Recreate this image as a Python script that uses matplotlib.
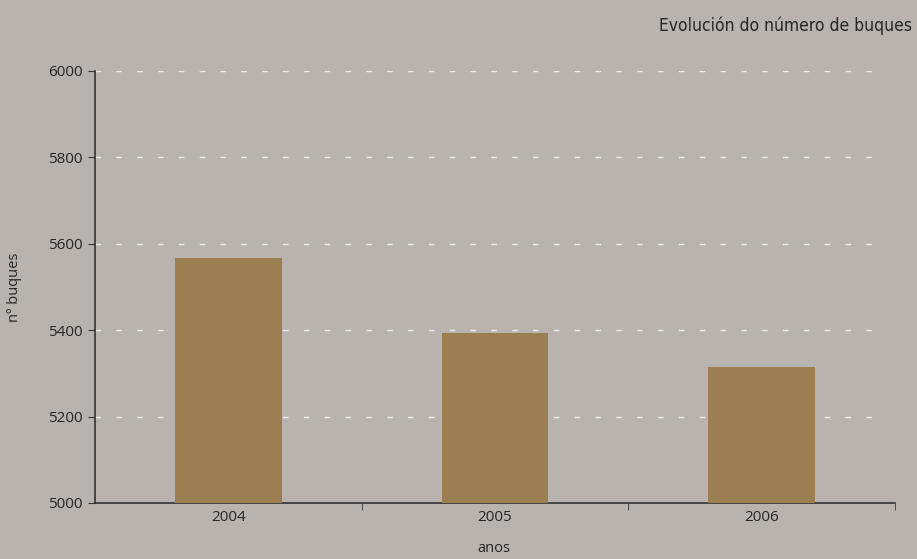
import matplotlib
matplotlib.use("Agg")
import matplotlib.pyplot as plt

years = ["2004", "2005", "2006"]
buques = [5566, 5393, 5314]
y_ticks = [5000, 5200, 5400, 5600, 5800, 6000]

bg = "#b8b3ae"
bar_color = "#9b7f51"
text_color = "#262626"

fig = plt.figure(figsize=(9.17, 5.59), dpi=100, facecolor=bg)
ax = fig.add_axes([95 / 917, 1 - 503 / 559, 800 / 917, 432 / 559], facecolor=bg)

x = range(len(years))
ax.bar(x, buques, width=0.4, color=bar_color, zorder=3)

ax.set_xlim(-0.5, len(years) - 0.5)
ax.set_ylim(5000, 6000)
ax.set_yticks(y_ticks)
ax.set_yticklabels([str(v) for v in y_ticks], fontsize=11, family="Open Sans", color=text_color)

# category labels centred under bars, tick marks at category boundaries
ax.set_xticks(list(x))
ax.set_xticklabels(years, fontsize=11, family="Open Sans", color=text_color)
ax.tick_params(axis="x", length=0, pad=5)
ax.set_xticks([i + 0.5 for i in x], minor=True)
ax.tick_params(axis="x", which="minor", length=5, direction="out", color="#333333")
ax.tick_params(axis="y", length=5, direction="out", color="#333333", pad=4)

for v in y_ticks[1:]:
    ax.axhline(v, color="#eeeeee", lw=1, ls=(0, (4, 11)), xmax=0.988, zorder=1)

for side in ("top", "right"):
    ax.spines[side].set_visible(False)
for side in ("left", "bottom"):
    ax.spines[side].set_color("#333333")
    ax.spines[side].set_linewidth(1.2)

fig.text(15 / 917, 1 - 287 / 559, "nº buques", rotation=90, ha="center", va="center",
         fontsize=10.5, family="Open Sans", color=text_color)
fig.text(494 / 917, 1 - 549 / 559, "anos", ha="center", va="center",
         fontsize=10.5, family="Open Sans", color=text_color)

fig.text(912 / 917, 1 - 26 / 559, "Evolución do número de buques", ha="right", va="center",
         fontsize=12.5, family="DejaVu Sans", fontstretch="condensed", color=text_color)

fig.savefig("out.png", dpi=100, facecolor=bg)
